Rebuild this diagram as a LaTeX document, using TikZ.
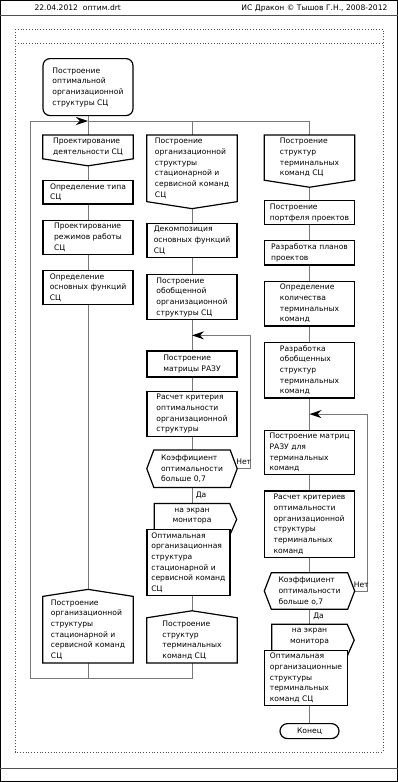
\documentclass[tikz,border=0pt]{standalone}
\usepackage{fontspec}
\setmainfont{DejaVu Sans}
\usepackage{tikz}
\usetikzlibrary{arrows.meta, positioning, calc, backgrounds}
\definecolor{dkline}{RGB}{120,120,120}
\definecolor{dkframe}{RGB}{80,80,80}
\pgfdeclarelayer{shapes}
\pgfsetlayers{background,shapes,main}

\begin{document}
\begin{tikzpicture}[
    x=1pt, y=-1pt,
    node distance=15pt,
    every node/.style={font=\fontsize{7.6}{10.7}\selectfont},
    action/.style={rectangle, draw, line width=1.2pt, fill=white, minimum width=90pt, inner xsep=4pt, inner ysep=3pt, align=left},
    startbox/.style={action, rounded corners=7pt, minimum height=57pt},
    endbox/.style={action, rounded corners=7.5pt, minimum width=59pt, minimum height=15pt, inner ysep=1pt},
    plain/.style={rectangle, minimum width=90pt, inner xsep=4pt, inner ysep=3pt, align=left},
    outbox/.style={plain, minimum width=75pt, minimum height=25pt, align=center},
    outline/.style={draw, line width=1.2pt, fill=white},
    line/.style={draw=dkline, line width=0.9pt},
    back/.style={line, -{Stealth[length=12pt, width=8pt, color=black]}},
]
\useasboundingbox (0,0) rectangle (398,782);

% frame
\draw[black, line width=1pt] (0.5,0.5) rectangle (397.5,781.5);
\draw[dkframe] (0,15.5) -- (398,15.5);
\draw[dkframe] (0,768) -- (398,768);
\draw[dkframe, dotted, line width=0.8pt] (15,29) rectangle (383,752);
\draw[dkframe, dotted, line width=0.8pt] (15,43) -- (383,43);
\node[anchor=west] (date) at (31,8) {22.04.2012\ \ оптим.drt};
\node[anchor=east] (author) at (391,8) {ИС Дракон © Тышов Г.Н., 2008-2012};

% left column
\node[startbox, anchor=north] (title) at (88,58) {Построение\\оптимальной\\организационной\\структуры СЦ};
\node[plain, anchor=north] (lb) at (88,135) {Проектирование\\деятельности СЦ};
\node[action, below=21pt of lb] (l2) {Определение типа\\СЦ};
\node[action, below=of l2] (l3) {Проектирование\\режимов работы\\СЦ};
\node[action, below=of l3] (l4) {Определение\\основных функций\\СЦ};
\node[plain, anchor=south] (la) at (88,663) {Построение\\организационной\\структуры\\стационарной и\\сервисной команд\\СЦ};

% middle column
\node[plain, anchor=north] (mb) at (192,135) {Построение\\организационной\\структуры\\стационарной и\\сервисной команд\\СЦ};
\node[action, below=21pt of mb] (m2) {Декомпозиция\\основных функций\\СЦ};
\node[action, below=16pt of m2] (m3) {Построение\\обобщенной\\организационной\\структуры СЦ};
\node[action, below=30pt of m3, minimum height=26pt] (m4) {Построение\\матрицы РАЗУ};
\node[action, below=13pt of m4] (m5) {Расчет критерия\\оптимальности\\организационной\\структуры};
\node[plain, below=13pt of m5, minimum height=37pt] (md) {Коэффициент\\оптимальности\\больше 0,7};
\node[outbox, below=16pt of md] (scr) {на экран\\монитора};
\node[action, anchor=north west, minimum width=83pt] (opt1) at ($(scr.south west)+(-8,0)$) {Оптимальная\\организационная\\структура\\стационарной и\\сервисной команд\\СЦ};
\node[plain, anchor=south] (ma) at (192,663) {Построение\\структур\\терминальных\\команд СЦ};
\coordinate (mj) at ($(m3.south)!0.5!(m4.north)$);

% right column
\node[plain, anchor=north] (rb) at (309.5,135) {Построение\\структур\\терминальных\\команд СЦ};
\node[action, below=20pt of rb] (r2) {Построение\\портфеля проектов};
\node[action, below=of r2] (r3) {Разработка планов\\проектов};
\node[action, below=of r3] (r4) {Определение\\количества\\терминальных\\команд};
\node[action, below=of r4] (r5) {Разработка\\обобщенных\\структур\\терминальных\\команд};
\node[action, below=31pt of r5] (r6) {Построение матриц\\РАЗУ для\\терминальных\\команд};
\node[action, below=of r6] (r7) {Расчет критериев\\оптимальности\\организационной\\структуры\\терминальных\\команд};
\node[plain, below=of r7, minimum height=36pt] (rd) {Коэффициент\\оптимальности\\больше o,7};
\node[outbox, below=of rd] (rscr) {на экран\\монитора};
\node[action, anchor=north west, minimum width=83pt] (ropt) at ($(rscr.south west)+(-8,0)$) {Оптимальная\\организационные\\структуры\\терминальных\\команд СЦ};
\node[endbox, anchor=north] (fin) at (309.5,723) {Конец};
\coordinate (rj) at ($(r5.south)!0.5!(r6.north)$);

\coordinate (rowtop) at (30,121);
\coordinate (rowbot) at (30,678);

% icon outlines
\begin{pgfonlayer}{shapes}
\foreach \n in {lb, mb, rb}
  \draw[outline] (\n.north west) -- (\n.north east) -- (\n.south east) -- ($(\n.south)+(0,7)$) -- (\n.south west) -- cycle;
\foreach \n in {la, ma}
  \draw[outline] (\n.south west) -- (\n.north west) -- ($(\n.north)+(0,-7)$) -- (\n.north east) -- (\n.south east) -- cycle;
\foreach \n in {md, rd}
  \draw[outline] ($(\n.north west)+(7,0)$) -- ($(\n.north east)+(-7,0)$) -- (\n.east) -- ($(\n.south east)+(-7,0)$) -- ($(\n.south west)+(7,0)$) -- (\n.west) -- cycle;
\foreach \n in {scr, rscr}
  \draw[outline] (\n.north west) -- (\n.north east) -- ($(\n.north east)+(7,16)$) -- ($(\n.north east)+(0,32)$) -- ($(\n.north west)+(0,32)$) -- cycle;
\end{pgfonlayer}

% connectors
\begin{scope}[on background layer]
\draw[line] (title) -- (lb) -- (l2) -- (l3) -- (l4) -- (la);
\draw[back] (la) -- (la |- rowbot) -- (rowbot) -- (rowtop) -- (lb |- rowtop);
\draw[line] (lb |- rowtop) -- (rb |- rowtop) -- (rb);
\draw[line] (mb |- rowtop) -- (mb) -- (m2) -- (m3) -- (m4) -- (m5) -- (md);
\draw[line] (md) -- node[right] {Да} (scr);
\draw[line] (scr) -- (ma) -- (ma |- rowbot) -- (rowbot);
\draw[back] (md.east) -- node[above] {Нет} ($(md.east)+(13,0)$) |- (mj);
\draw[line] (rb) -- (r2) -- (r3) -- (r4) -- (r5) -- (r6) -- (r7) -- (rd);
\draw[line] (rd) -- node[right] {Да} (rscr);
\draw[line] (rscr) -- (fin);
\draw[back] (rd.east) -- node[above] {Нет} ($(rd.east)+(13,0)$) |- (rj);
\end{scope}
\end{tikzpicture}
\end{document}
